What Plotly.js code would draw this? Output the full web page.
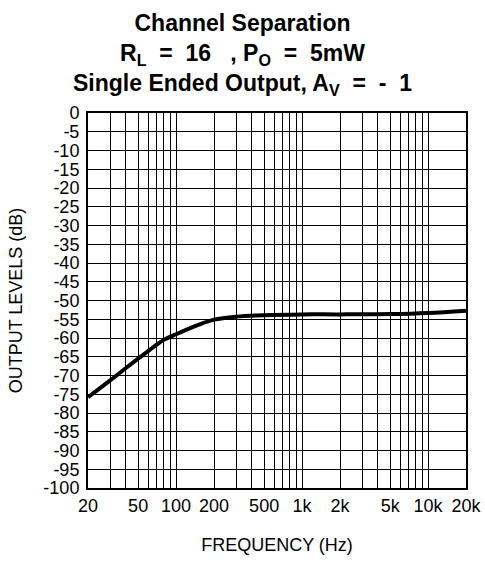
<!DOCTYPE html>
<html>
<head>
<meta charset="utf-8">
<script src="https://cdn.plot.ly/plotly-3.0.1.min.js"></script>
<style>html,body{margin:0;padding:0;background:#fff;}#chart{width:485px;height:563px;}</style>
</head>
<body>
<div id="chart"></div>
<script>
// Curve
const frequencyHz = [20, 30, 40, 50, 60, 70, 80, 100, 150, 200, 300, 500, 1000, 2000, 5000, 10000, 20000];
const outputLevelDb = [-75.8, -71.3, -68.0, -65.5, -63.5, -61.8, -60.5, -59.0, -56.5, -55.1, -54.3, -53.9, -53.7, -53.7, -53.6, -53.3, -52.7];

// Axis grid / tick labels
const xGridValues = [20, 30, 40, 50, 60, 70, 80, 90, 100, 200, 300, 400, 500, 600, 700, 800, 900, 1000,
                     2000, 3000, 4000, 5000, 6000, 7000, 8000, 9000, 10000, 20000];
const xGridLabels = ["20", "", "", "50", "", "", "", "", "100", "200", "", "", "500", "", "", "", "", "1k",
                     "2k", "", "", "5k", "", "", "", "", "10k", "20k"];
const yTickValues = [0, -5, -10, -15, -20, -25, -30, -35, -40, -45, -50, -55, -60, -65, -70, -75, -80, -85, -90, -95, -100];
const yTickLabels = ["0", "-5", "-10", "-15", "-20", "-25", "-30", "-35", "-40", "-45", "-50", "-55", "-60", "-65", "-70", "-75", "-80", "-85", "-90", "-95", "-100"];

const FONT = "Liberation Sans, Arial, Helvetica, sans-serif";

const trace = {
  x: frequencyHz,
  y: outputLevelDb,
  type: "scatter",
  mode: "lines",
  line: {color: "#000", width: 4, shape: "spline", smoothing: 1},
  hoverinfo: "skip"
};

const layout = {
  width: 485,
  height: 563,
  paper_bgcolor: "#fff",
  plot_bgcolor: "#fff",
  showlegend: false,
  margin: {l: 88, r: 19, t: 113, b: 75},
  font: {family: FONT, color: "#000", size: 18},
  title: {
    text: "Channel Separation<br>R<sub>L</sub> &nbsp;= &nbsp;16 &nbsp;&nbsp;, P<sub>O</sub> &nbsp;= &nbsp;5mW<br>Single Ended Output, A<sub>V</sub> &nbsp;= &nbsp;- &nbsp;1",
    font: {family: FONT, size: 23, color: "#000", weight: "bold"},
    x: 0.5, xref: "container", xanchor: "center",
    y: 0.945, yref: "container", yanchor: "top"
  },
  xaxis: {
    type: "log",
    range: [Math.log10(20), Math.log10(20000)],
    tickmode: "array",
    tickvals: xGridValues,
    ticktext: xGridLabels,
    ticks: "",
    showgrid: true,
    gridcolor: "#000",
    gridwidth: 1,
    showline: true, mirror: true, linecolor: "#000", linewidth: 2,
    zeroline: false,
    tickfont: {family: FONT, size: 18, color: "#000"},
    title: {text: "FREQUENCY (Hz)", font: {family: FONT, size: 18, color: "#000"}, standoff: 24},
    fixedrange: true
  },
  yaxis: {
    range: [-100, 0],
    tickmode: "array",
    tickvals: yTickValues,
    ticktext: yTickLabels,
    ticks: "",
    ticklabelstandoff: 3,
    showgrid: true,
    gridcolor: "#000",
    gridwidth: 1,
    showline: true, mirror: true, linecolor: "#000", linewidth: 2,
    zeroline: false,
    tickfont: {family: FONT, size: 18, color: "#000"},
    title: {text: "OUTPUT LEVELS (dB)", font: {family: FONT, size: 18, color: "#000"}, standoff: 16},
    fixedrange: true
  }
};

Plotly.newPlot("chart", [trace], layout, {displayModeBar: false, staticPlot: true});
</script>
</body>
</html>
